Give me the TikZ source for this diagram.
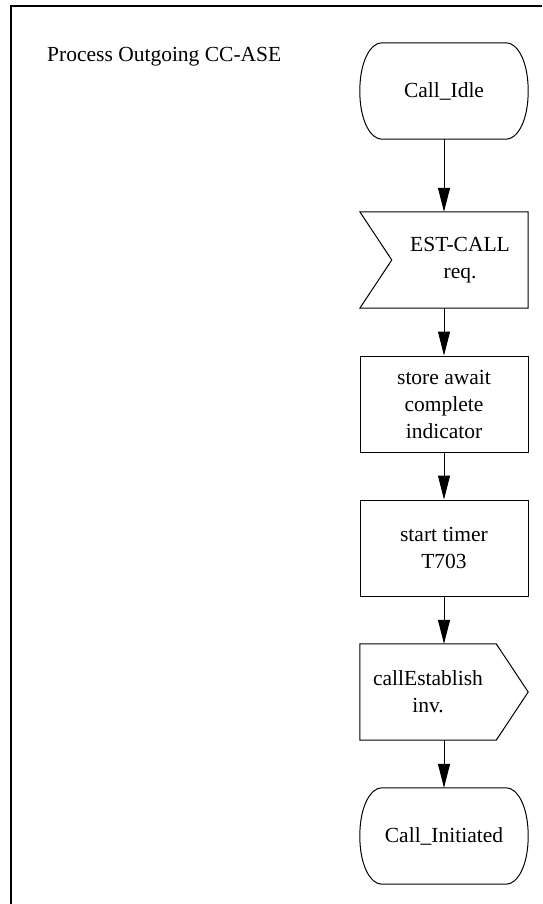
\documentclass[tikz,border=0pt]{standalone}
\usepackage{fontspec}
\setmainfont{Liberation Serif}
\usetikzlibrary{arrows.meta,calc}

% SDL state symbol: flat top and bottom, convex sides
\newcommand\sdlstate[1]{%
  \draw[outline] ($(#1.north west)+(22,0)$) -- ($(#1.north east)+(-22,0)$)
    .. controls ($(#1.north east)+(-11,0)$) and ($(#1.north east)+(0,18)$) .. (#1.east)
    .. controls ($(#1.south east)+(0,-18)$) and ($(#1.south east)+(-11,0)$) .. ($(#1.south east)+(-22,0)$)
    -- ($(#1.south west)+(22,0)$)
    .. controls ($(#1.south west)+(11,0)$) and ($(#1.south west)+(0,-18)$) .. (#1.west)
    .. controls ($(#1.north west)+(0,18)$) and ($(#1.north west)+(11,0)$) .. ($(#1.north west)+(22,0)$)
    -- cycle;}

\begin{document}
\begin{tikzpicture}[x=1pt,y=-1pt,
  every node/.style={font=\fontsize{21.5}{27}\selectfont, inner sep=0pt, align=center},
  holder/.style={minimum width=168pt, minimum height=96pt},
  boxed/.style={holder, draw, line width=1pt},
  outline/.style={draw, line width=1pt, line join=miter},
  flow/.style={line width=1pt, -{Triangle[length=24pt,width=12pt]}},
  frame/.style={line width=2pt}]
\useasboundingbox (0,0) rectangle (542,904);

% page frame
\draw[frame] (11,904) -- (11,6) -- (542,6);

\node[anchor=base west] (title) at (47,62) {Process Outgoing CC-ASE};

% process steps
\node[holder] (idle) at (444,91) {Call\_Idle};
\node[holder] (est) at (444,260) {};
\node (esttext) at (460,260) {EST-CALL\\req.};
\node[boxed] (store) at (444,404) {store await\\complete\\indicator};
\node[boxed] (timer) at (444,548) {start timer\\T703};
\node[holder] (estab) at (444,692) {};
\node (estabtext) at (428,692) {callEstablish\\inv.};
\node[holder] (init) at (444,836) {Call\_Initiated};

% symbol outlines
\sdlstate{idle}
\sdlstate{init}
\draw[outline] (est.north west) -- (est.north east) -- (est.south east)
  -- (est.south west) -- ($(est.west)+(32,0)$) -- cycle;
\draw[outline] (estab.north west) -- ($(estab.north east)+(-32,0)$) -- (estab.east)
  -- ($(estab.south east)+(-32,0)$) -- (estab.south west) -- cycle;

% flow
\draw[flow] (idle) -- (est);
\draw[flow] (est) -- (store);
\draw[flow] (store) -- (timer);
\draw[flow] (timer) -- (estab);
\draw[flow] (estab) -- (init);
\end{tikzpicture}
\end{document}
